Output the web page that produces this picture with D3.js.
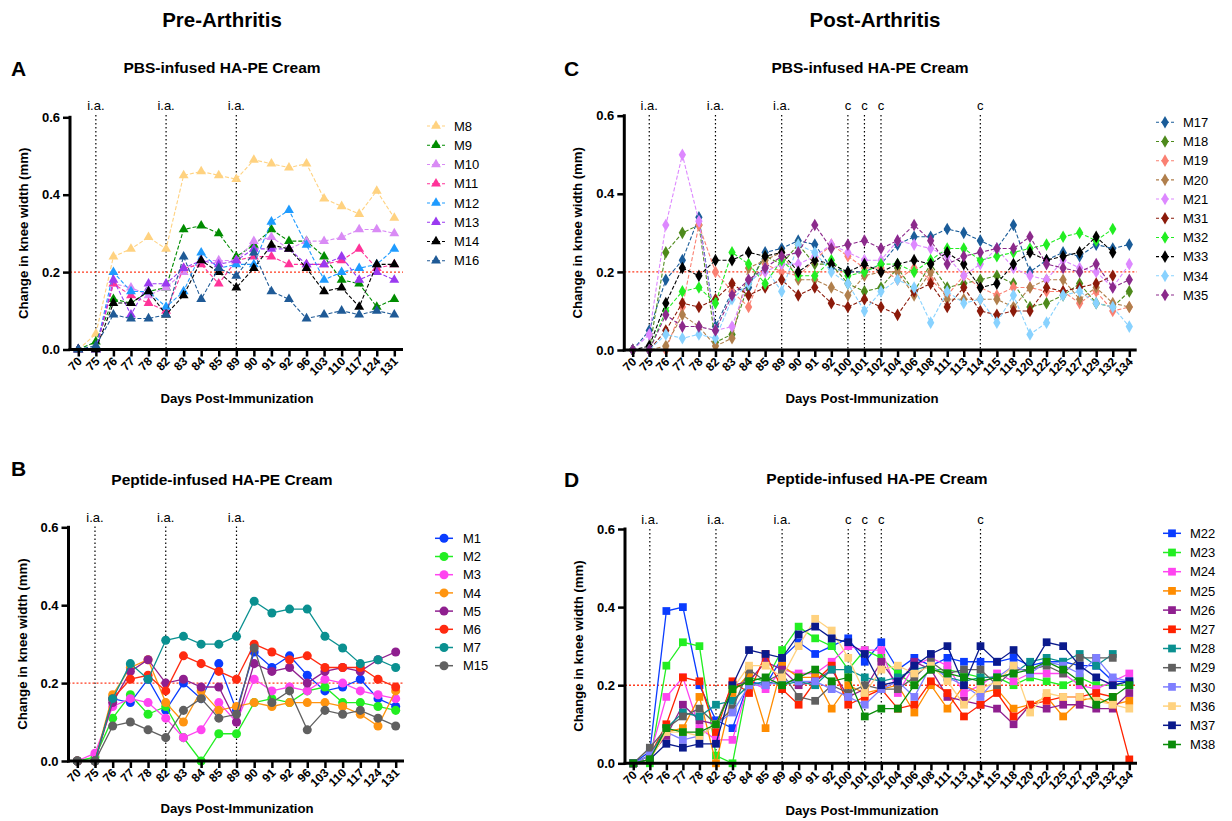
<!DOCTYPE html>
<html>
<head>
<meta charset="utf-8">
<script src="https://cdn.jsdelivr.net/npm/d3@7"></script>
<style>
  body { margin: 0; background: #fff; }
  svg { font-family: "Liberation Sans", Arial, Helvetica, sans-serif; }
</style>
</head>
<body>
<svg id="chart" width="1232" height="821"></svg>
<script>
// days on the x axis
const daysPre = ["70","75","76","77","78","82","83","84","85","89","90","91","92","96","103","110","117","124","131"];
const daysPost = ["70","75","76","77","78","82","83","84","85","89","90","91","92","100","101","102","104","106","108","111","113","114","115","118","120","122","125","127","129","132","134"];

// event markers (i.a. injection, c = cream)
const eventsPre = [["75","i.a."],["82","i.a."],["89","i.a."]];
const eventsPost = [["75","i.a."],["82","i.a."],["89","i.a."],["100","c"],["101","c"],["102","c"],["114","c"]];

const yTicks = [0, 0.2, 0.4, 0.6];
const threshold = 0.2;

// panel A - PBS pre-arthritis
const namesA = ["M8","M9","M10","M11","M12","M13","M14","M16"];
const valuesA = [
  [0,0.04,0.24,0.26,0.29,0.26,0.45,0.46,0.45,0.44,0.49,0.48,0.47,0.48,0.39,0.37,0.35,0.41,0.34],
  [0,0.02,0.13,0.12,0.15,0.16,0.31,0.32,0.30,0.24,0.27,0.31,0.28,0.28,0.24,0.18,0.17,0.11,0.13],
  [0,0,0.17,0.16,0.14,0.16,0.20,0.23,0.23,0.23,0.28,0.29,0.26,0.28,0.28,0.29,0.31,0.31,0.30],
  [0,0,0.17,0.14,0.12,0.10,0.21,0.22,0.17,0.23,0.24,0.24,0.22,0.22,0.22,0.23,0.26,0.21,0.22],
  [0,0,0.20,0.15,0.15,0.11,0.15,0.25,0.21,0.22,0.22,0.33,0.36,0.27,0.18,0.20,0.21,0.22,0.26],
  [0,0,0.18,0.09,0.17,0.17,0.21,0.23,0.22,0.23,0.26,0.26,0.26,0.22,0.22,0.24,0.18,0.20,0.18],
  [0,0,0.12,0.12,0.15,0.09,0.14,0.23,0.20,0.16,0.21,0.27,0.26,0.21,0.15,0.16,0.11,0.22,0.22],
  [0,0.01,0.09,0.08,0.08,0.09,0.24,0.13,0.21,0.19,0.25,0.15,0.13,0.08,0.09,0.10,0.09,0.10,0.09]
];
const colorsA = ["#FFD280","#008C00","#D98BF5","#FF3399","#1E9BFF","#9A3AF0","#000000","#1F5A96"];

// panel B - peptide pre-arthritis
const namesB = ["M1","M2","M3","M4","M5","M6","M7","M15"];
const valuesB = [
  [0,0,0.16,0.15,0.21,0.13,0.20,0.16,0.25,0.13,0.28,0.24,0.27,0.22,0.18,0.19,0.21,0.16,0.14],
  [0,0.01,0.11,0.17,0.12,0.14,0.06,0.00,0.07,0.07,0.15,0.16,0.15,0.18,0.19,0.15,0.15,0.14,0.13],
  [0,0.02,0.14,0.16,0.15,0.11,0.06,0.08,0.15,0.10,0.21,0.18,0.19,0.18,0.21,0.20,0.18,0.17,0.16],
  [0,0,0.17,0.24,0.26,0.15,0.10,0.18,0.13,0.14,0.15,0.14,0.15,0.15,0.15,0.14,0.12,0.09,0.18],
  [0,0,0.15,0.23,0.26,0.20,0.21,0.19,0.19,0.10,0.25,0.23,0.24,0.20,0.23,0.24,0.23,0.26,0.28],
  [0,0,0.16,0.21,0.22,0.18,0.27,0.25,0.23,0.21,0.30,0.28,0.26,0.27,0.24,0.24,0.24,0.21,0.19],
  [0,0,0.16,0.25,0.21,0.31,0.32,0.30,0.30,0.32,0.41,0.38,0.39,0.39,0.32,0.29,0.25,0.26,0.24],
  [0,0,0.09,0.10,0.08,0.06,0.13,0.16,0.11,0.12,0.29,0.15,0.18,0.08,0.13,0.12,0.13,0.11,0.09]
];
const colorsB = ["#0A3CFF","#22EE22","#FF44F0","#FF9410","#8F1F8F","#FF2A10","#0A9090","#606060"];

// panel C - PBS post-arthritis
const namesC = ["M17","M18","M19","M20","M21","M31","M32","M33","M34","M35"];
const valuesC = [
  [0,0.05,0.18,0.23,0.34,0.06,0.15,0.16,0.25,0.26,0.28,0.27,0.21,0.20,0.20,0.22,0.27,0.29,0.29,0.31,0.30,0.28,0.26,0.32,0.20,0.23,0.25,0.24,0.27,0.26,0.27],
  [0,0,0.25,0.30,0.32,0.02,0.04,0.17,0.24,0.22,0.27,0.22,0.22,0.17,0.15,0.16,0.21,0.15,0.22,0.16,0.17,0.18,0.19,0.17,0.11,0.12,0.14,0.17,0.12,0.11,0.15],
  [0,0,0,0.11,0.32,0.20,0.15,0.11,0.22,0.20,0.19,0.23,0.27,0.24,0.21,0.21,0.18,0.21,0.18,0.14,0.19,0.16,0.14,0.16,0.16,0.15,0.15,0.12,0.15,0.10,0.11],
  [0,0,0.01,0.09,0.06,0.01,0.03,0.21,0.23,0.25,0.18,0.18,0.16,0.14,0.19,0.20,0.20,0.14,0.20,0.13,0.13,0.13,0.13,0.11,0.16,0.18,0.18,0.13,0.16,0.12,0.11],
  [0,0.04,0.32,0.50,0.33,0.05,0.06,0.18,0.20,0.22,0.22,0.24,0.27,0.25,0.23,0.23,0.28,0.27,0.26,0.24,0.19,0.22,0.26,0.21,0.19,0.18,0.23,0.21,0.20,0.16,0.22],
  [0,0,0.05,0.12,0.11,0.13,0.17,0.14,0.16,0.18,0.14,0.16,0.12,0.11,0.13,0.11,0.09,0.15,0.17,0.11,0.16,0.10,0.09,0.10,0.10,0.16,0.15,0.16,0.17,0.19,null],
  [0,0,0.10,0.15,0.16,0.12,0.25,0.22,0.17,0.23,0.19,0.19,0.23,0.19,0.20,0.22,0.22,0.20,0.23,0.26,0.26,0.23,0.24,0.25,0.26,0.27,0.29,0.30,0.28,0.31,null],
  [0,0.01,0.12,0.21,0.19,0.23,0.23,0.25,0.24,0.25,0.20,0.23,0.22,0.20,0.22,0.20,0.22,0.23,0.22,0.25,0.22,0.16,0.17,0.22,0.25,0.23,0.24,0.25,0.29,0.25,null],
  [0,0,0.04,0.03,0.04,0.03,0.13,0.17,0.21,0.15,0.27,0.25,0.20,0.17,0.10,0.15,0.18,0.16,0.07,0.15,0.12,0.13,0.07,0.14,0.04,0.07,0.14,0.15,0.12,0.11,0.06],
  [0,0,0.09,0.06,0.06,0.05,0.14,0.18,0.21,0.24,0.25,0.32,0.26,0.27,0.28,0.26,0.28,0.32,0.28,0.22,0.24,0.25,0.26,0.26,0.29,0.22,0.21,0.20,0.22,0.16,0.18]
];
const colorsC = ["#1A5C99","#4E8A1C","#FA8072","#B07F4C","#DD88FF","#8B1A0A","#22EE22","#000000","#88D2FF","#8B2A8B"];

// panel D - peptide post-arthritis
const namesD = ["M22","M23","M24","M25","M26","M27","M28","M29","M30","M36","M37","M38"];
const valuesD = [
  [0,0.03,0.39,0.40,0.20,0.11,0.09,0.21,0.20,0.27,0.31,0.28,0.30,0.32,0.26,0.31,0.24,0.27,0.25,0.27,0.26,0.26,0.26,0.27,0.25,0.26,0.26,0.25,0.25,0.21,0.21],
  [0,0,0.25,0.31,0.30,0.02,0.00,0.22,0.21,0.29,0.35,0.32,0.30,0.24,0.29,0.27,0.23,0.20,0.24,0.24,0.23,0.22,0.22,0.20,0.22,0.21,0.20,0.22,0.20,0.20,0.20],
  [0,0.02,0.17,0.22,0.09,0.06,0.06,0.21,0.19,0.24,0.23,0.23,0.26,0.30,0.29,0.29,0.18,0.25,0.27,0.25,0.18,0.20,0.23,0.21,0.23,0.23,0.23,0.20,0.19,0.21,0.23],
  [0,0.01,0.08,0.09,0.17,0.00,0.18,0.23,0.09,0.25,0.22,0.22,0.14,0.20,0.18,0.19,0.20,0.13,0.20,0.14,0.20,0.18,0.19,0.14,0.15,0.17,0.12,0.16,0.17,0.15,0.16],
  [0,0.02,0.07,0.15,0.11,0.10,0.20,0.21,0.26,0.24,0.20,0.21,0.24,0.17,0.19,0.26,0.20,0.26,0.24,0.17,0.16,0.15,0.14,0.10,0.15,0.14,0.15,0.15,0.14,0.14,0.18],
  [0,0.02,0.10,0.22,0.21,0.08,0.21,0.18,0.28,0.19,0.15,0.21,0.25,0.15,0.17,0.19,0.14,0.15,0.21,0.18,0.12,0.15,0.18,0.12,0.15,0.16,0.17,0.17,0.18,0.17,0.01],
  [0,0.02,0.09,0.13,0.12,0.15,0.16,0.20,0.21,0.20,0.21,0.20,0.24,0.24,0.22,0.21,0.22,0.24,0.25,0.22,0.21,0.22,0.22,0.23,0.26,0.27,0.26,0.28,0.25,0.28,null],
  [0,0.04,0.09,0.12,0.14,0.10,0.14,0.24,0.21,0.23,0.17,0.16,0.20,0.18,0.20,0.19,0.19,0.22,0.26,0.23,0.24,0.24,0.20,0.24,0.24,0.25,0.23,0.27,0.27,0.27,null],
  [0,0.02,0.08,0.06,0.07,0.10,0.13,0.20,0.20,0.21,0.21,0.21,0.19,0.17,0.15,0.19,0.21,0.17,0.25,0.22,0.20,0.17,0.22,0.25,0.23,0.26,0.25,0.23,0.27,0.22,0.21],
  [0,0.01,0.08,0.08,0.07,0.10,0.19,0.25,0.25,0.22,0.30,0.37,0.34,0.27,0.18,0.24,0.25,0.23,0.25,0.21,0.15,0.19,0.21,0.25,0.13,0.18,0.17,0.17,0.16,0.15,0.14],
  [0,0.01,0.05,0.04,0.05,0.05,0.20,0.29,0.28,0.27,0.33,0.35,0.32,0.31,0.28,0.20,0.21,0.25,0.28,0.30,0.20,0.30,0.26,0.29,0.24,0.31,0.30,0.25,0.22,0.20,0.21],
  [0,0.01,0.09,0.08,0.08,0.10,0.19,0.21,0.22,0.20,0.22,0.24,0.21,0.22,0.12,0.14,0.14,0.20,0.24,0.23,0.22,0.21,0.22,0.23,0.24,0.26,0.24,0.21,0.15,0.17,0.20]
];
const colorsD = ["#0A3CFF","#22EE22","#FF44F0","#FF8C00","#8F1F8F","#FF2200","#0A9090","#606060","#7F7FFF","#FFD27F","#0A1A8C","#0A8C0A"];

const svg = d3.select("#chart");

// column headings
svg.append("text").attr("x", 222).attr("y", 27).attr("text-anchor", "middle")
    .style("font-size", "20.5px").style("font-weight", "bold").text("Pre-Arthritis");
svg.append("text").attr("x", 875).attr("y", 27).attr("text-anchor", "middle")
    .style("font-size", "20.5px").style("font-weight", "bold").text("Post-Arthritis");

function drawPanel(p) {
    const x = d3.scalePoint().domain(p.days).range([p.xFirst, p.xLast]);
    const y = d3.scaleLinear().domain([0, 0.6]).range([p.y0, p.yTop]);
    const g = svg.append("g");

    // letter and title
    g.append("text").attr("x", p.letterX).attr("y", p.letterY)
        .style("font-size", "21px").style("font-weight", "bold").text(p.letter);
    g.append("text").attr("x", p.titleX).attr("y", p.titleY).attr("text-anchor", "middle")
        .style("font-size", "15.5px").style("font-weight", "bold").text(p.title);

    // event lines
    p.events.forEach(([day, label]) => {
        g.append("line")
            .attr("x1", x(day)).attr("x2", x(day))
            .attr("y1", p.eventY + 5).attr("y2", p.y0)
            .attr("stroke", "#000").attr("stroke-width", 1.2)
            .attr("stroke-dasharray", "1.5,2.5");
        g.append("text").attr("x", x(day)).attr("y", p.eventY)
            .attr("text-anchor", "middle").style("font-size", "13px").text(label);
    });

    // threshold line
    g.append("line")
        .attr("x1", p.axisX).attr("x2", p.axisEnd)
        .attr("y1", y(threshold)).attr("y2", y(threshold))
        .attr("stroke", "#FF3B1F").attr("stroke-width", 1.4)
        .attr("stroke-dasharray", "2,2");

    // series
    const line = d3.line().defined(d => d.v != null).x(d => x(d.day)).y(d => y(d.v));
    const sym = d3.symbol().type(p.symbol).size(p.symSize);
    p.values.forEach((vals, i) => {
        const pts = vals.map((v, j) => ({day: p.days[j], v: v}));
        const s = g.append("g");
        s.append("path").datum(pts)
            .attr("d", line)
            .attr("fill", "none")
            .attr("stroke", p.colors[i])
            .attr("stroke-width", p.dashed ? 1.1 : 1.3)
            .attr("stroke-dasharray", p.dashed ? "4,2" : null);
        s.selectAll("path.pt").data(pts.filter(d => d.v != null)).join("path")
            .attr("class", "pt")
            .attr("transform", d => "translate(" + x(d.day) + "," + y(d.v) + ")")
            .attr("d", sym)
            .attr("fill", p.colors[i]);
    });

    // y axis
    const yAxis = g.append("g")
        .attr("transform", "translate(" + p.axisX + ",0)")
        .call(d3.axisLeft(y).tickValues(yTicks).tickFormat(d3.format(".1f")).tickSize(7).tickPadding(3).tickSizeOuter(0));
    yAxis.select(".domain").attr("stroke-width", 3).attr("d", "M0," + (p.yTop - 1.5) + "V" + (p.y0 + 1.5));
    yAxis.selectAll(".tick line").attr("stroke-width", 2.5);
    yAxis.selectAll("text").style("font-size", "13px").style("font-weight", "bold").attr("fill", "#000");

    // x axis
    const xAxis = g.append("g")
        .attr("transform", "translate(0," + p.y0 + ")")
        .call(d3.axisBottom(x).tickSize(7).tickSizeOuter(0));
    xAxis.select(".domain").remove();
    xAxis.selectAll(".tick line").attr("stroke-width", 2.5);
    xAxis.selectAll("text")
        .attr("x", 0).attr("y", 0).attr("dy", 0)
        .attr("transform", "translate(4,12.5) rotate(-45)")
        .attr("text-anchor", "end")
        .attr("fill", "#000")
        .style("font-size", "12px").style("font-weight", "bold");
    g.append("line")
        .attr("x1", p.axisX - 1.5).attr("x2", p.axisEnd)
        .attr("y1", p.y0).attr("y2", p.y0)
        .attr("stroke", "#000").attr("stroke-width", 3);

    // axis titles
    g.append("text")
        .attr("transform", "translate(" + p.yLabelX + "," + ((p.y0 + p.yTop) / 2) + ") rotate(-90)")
        .attr("text-anchor", "middle")
        .style("font-size", "13.2px").style("font-weight", "bold")
        .text("Change in knee width (mm)");
    g.append("text").attr("x", p.xLabelX).attr("y", p.xLabelY).attr("text-anchor", "middle")
        .style("font-size", "13.2px").style("font-weight", "bold")
        .text("Days Post-Immunization");

    // legend
    const legend = g.append("g").attr("transform", "translate(" + p.legX + "," + p.legY + ")");
    const items = legend.selectAll("g").data(p.names).join("g")
        .attr("transform", (d, i) => "translate(0," + (i * p.legStep) + ")");
    items.append("line")
        .attr("x1", 0).attr("x2", 18).attr("y1", 0).attr("y2", 0)
        .attr("stroke", (d, i) => p.colors[i])
        .attr("stroke-width", p.dashed ? 1.1 : 1.5)
        .attr("stroke-dasharray", p.dashed ? "3,2" : null);
    items.append("path")
        .attr("transform", "translate(9,0)")
        .attr("d", sym)
        .attr("fill", (d, i) => p.colors[i]);
    items.append("text")
        .attr("x", p.legTextDx).attr("y", 0).attr("dy", "0.36em")
        .style("font-size", "13px")
        .text(d => d);
}

drawPanel({
    letter: "A", letterX: 11, letterY: 76, title: "PBS-infused HA-PE Cream", titleX: 222, titleY: 73,
    days: daysPre, names: namesA, values: valuesA, colors: colorsA, events: eventsPre,
    symbol: d3.symbolTriangle, symSize: 42, dashed: true,
    axisX: 70, axisEnd: 403, xFirst: 78.3, xLast: 394.3, y0: 349.5, yTop: 117.3, eventY: 110,
    yLabelX: 28, xLabelX: 237, xLabelY: 403,
    legX: 427, legY: 126, legStep: 19.25, legTextDx: 27
});
drawPanel({
    letter: "B", letterX: 11, letterY: 476, title: "Peptide-infused HA-PE Cream", titleX: 222, titleY: 485,
    days: daysPre, names: namesB, values: valuesB, colors: colorsB, events: eventsPre,
    symbol: d3.symbolCircle, symSize: 64, dashed: false,
    axisX: 68.5, axisEnd: 404, xFirst: 77.3, xLast: 395.7, y0: 761, yTop: 527.3, eventY: 521.5,
    yLabelX: 27, xLabelX: 237, xLabelY: 813,
    legX: 435, legY: 538.3, legStep: 18.2, legTextDx: 28
});
drawPanel({
    letter: "C", letterX: 564, letterY: 76, title: "PBS-infused HA-PE Cream", titleX: 870, titleY: 73,
    days: daysPost, names: namesC, values: valuesC, colors: colorsC, events: eventsPost,
    symbol: d3.symbolDiamond, symSize: 46, dashed: true,
    axisX: 624.3, axisEnd: 1136.7, xFirst: 632.7, xLast: 1129.3, y0: 350, yTop: 115.7, eventY: 110,
    yLabelX: 582, xLabelX: 862, xLabelY: 403,
    legX: 1156, legY: 122.3, legStep: 19.19, legTextDx: 27
});
drawPanel({
    letter: "D", letterX: 564, letterY: 487, title: "Peptide-infused HA-PE Cream", titleX: 877, titleY: 484,
    days: daysPost, names: namesD, values: valuesD, colors: colorsD, events: eventsPost,
    symbol: d3.symbolSquare, symSize: 60, dashed: false,
    axisX: 625, axisEnd: 1137, xFirst: 633.3, xLast: 1129.3, y0: 763.3, yTop: 529, eventY: 524,
    yLabelX: 583, xLabelX: 862, xLabelY: 815,
    legX: 1163, legY: 533.3, legStep: 19.2, legTextDx: 27
});
</script>
</body>
</html>
